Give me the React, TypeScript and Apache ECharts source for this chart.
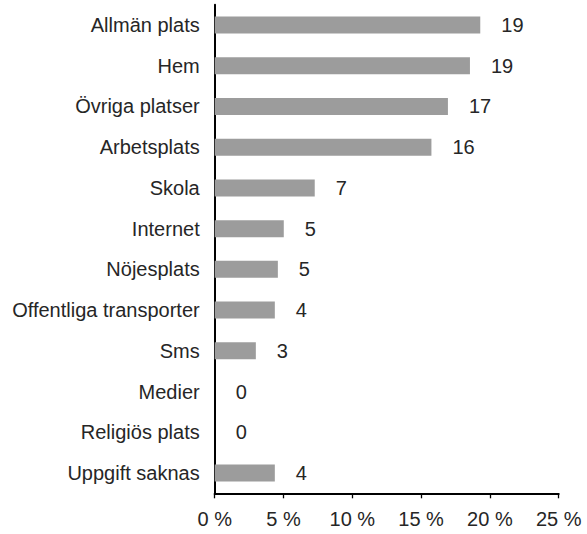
import React, { useEffect, useRef } from "react";
import * as echarts from "echarts";

const categories = [
  "Allmän plats",
  "Hem",
  "Övriga platser",
  "Arbetsplats",
  "Skola",
  "Internet",
  "Nöjesplats",
  "Offentliga transporter",
  "Sms",
  "Medier",
  "Religiös plats",
  "Uppgift saknas",
];
const values = [19.3, 18.55, 16.95, 15.75, 7.27, 5.02, 4.59, 4.37, 2.99, 0, 0, 4.37];
const valueLabels = ["19", "19", "17", "16", "7", "5", "5", "4", "3", "0", "0", "4"];
const xTicks = { min: 0, max: 25, interval: 5 };

const FONT = "'Liberation Sans', Arial, sans-serif";
const TEXT = "#262626";

export default function App() {
  const ref = useRef<HTMLDivElement>(null);
  useEffect(() => {
    if (!ref.current) return;
    const chart = echarts.init(ref.current, undefined, { renderer: "svg" });
    chart.setOption({
      animation: false,
      backgroundColor: "#ffffff",
      textStyle: { fontFamily: FONT },
      grid: { left: 214.7, right: 28.3, top: 4.7, bottom: 40.7, containLabel: false },
      xAxis: {
        type: "value",
        min: xTicks.min,
        max: xTicks.max,
        interval: xTicks.interval,
        axisLine: { show: true, lineStyle: { color: "#000", width: 2 } },
        axisTick: { show: true, length: 5, lineStyle: { color: "#000", width: 1.3 } },
        splitLine: { show: false },
        axisLabel: {
          formatter: "{value} %",
          color: TEXT,
          fontSize: 20,
          fontFamily: FONT,
          margin: 16,
        },
      },
      yAxis: {
        type: "category",
        data: categories,
        inverse: true,
        axisLine: { show: true, lineStyle: { color: "#000", width: 2 } },
        axisTick: { show: false },
        splitLine: { show: false },
        axisLabel: {
          color: TEXT,
          fontSize: 20,
          fontFamily: FONT,
          margin: 15,
        },
      },
      series: [
        {
          type: "bar",
          data: values,
          barWidth: 17,
          itemStyle: { color: "#9c9c9c" },
          label: {
            show: true,
            position: "right",
            distance: 21,
            color: TEXT,
            fontSize: 20,
            fontFamily: FONT,
            formatter: (p: any) => valueLabels[p.dataIndex],
          },
        },
      ],
    });
    return () => chart.dispose();
  }, []);
  return (
    <div
      ref={ref}
      style={{ position: "fixed", left: 0, top: 0, width: 587, height: 534 }}
    />
  );
}
